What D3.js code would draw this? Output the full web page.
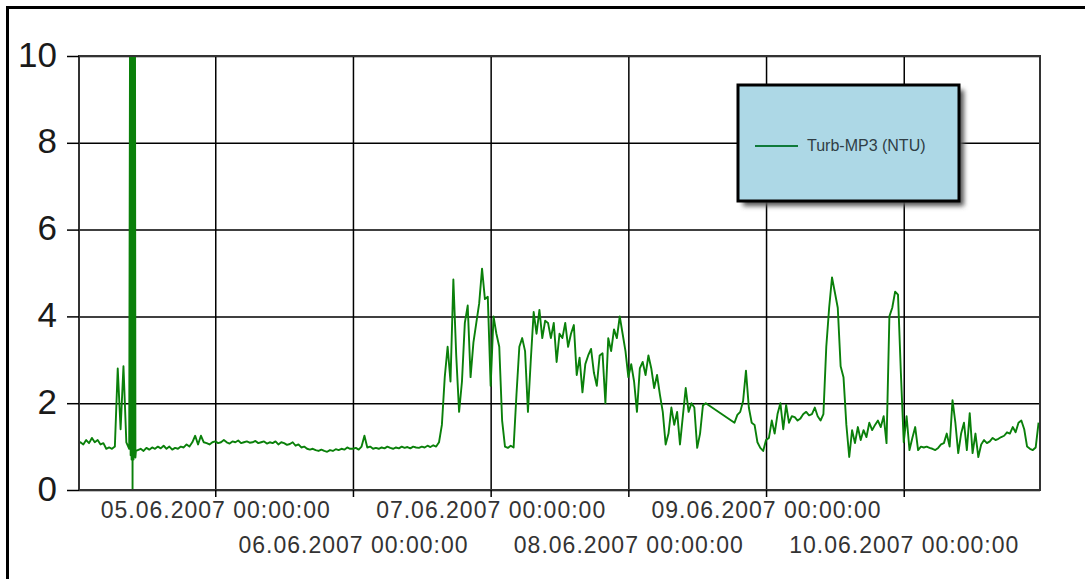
<!DOCTYPE html>
<html>
<head>
<meta charset="utf-8">
<script src="https://cdn.jsdelivr.net/npm/d3@7"></script>
<style>
  body { margin: 0; background: #fff; }
  svg { display: block; }
</style>
</head>
<body>
<div id="chart-area"></div>
<script>
// Turbidity readings, one value every 30 minutes per day (null = no reading)
const days = ["2007-06-04", "2007-06-05", "2007-06-06", "2007-06-07", "2007-06-08", "2007-06-09", "2007-06-10"]

const day04 = [1.05, 1.1, 1.05, 1.15, 1.08, 1.2, 1.1, 1.15, 1.05, 1.08, 0.95, 0.98, 0.95, 1.0, 2.8, 1.4,
	2.85, 1.1, 0.95, null, null, 0.92, 0.95, 0.9, 0.97, 0.93, 0.98, 0.95, 1.0, 0.96, 1.02, 0.95,
	1.0, 0.93, 0.97, 0.95, 1.0, 0.98, 1.05, 1.0, 1.1, 1.25, 1.05, 1.25, 1.1, 1.08, 1.05, 1.1]
const day05 = [1.12, 1.08, 1.1, 1.15, 1.1, 1.07, 1.12, 1.1, 1.14, 1.08, 1.1, 1.12, 1.09, 1.1, 1.13, 1.08,
	1.1, 1.12, 1.07, 1.1, 1.08, 1.12, 1.05, 1.1, 1.08, 1.04, 1.06, 1.1, 1.02, 1.05, 0.98, 1.0,
	0.95, 0.93, 0.95, 0.92, 0.9, 0.93, 0.9, 0.88, 0.92, 0.9, 0.94, 0.92, 0.95, 0.93, 0.98, 0.95]
const day06 = [0.95, 0.97, 0.93, 1.0, 1.25, 0.98, 1.0, 0.95, 0.97, 0.95, 0.98, 0.96, 1.0, 0.97, 0.95, 0.98,
	0.96, 1.0, 0.97, 0.99, 0.96, 1.0, 0.98, 0.97, 1.0, 0.98, 1.02, 0.99, 1.03, 1.0, 1.1, 1.5,
	2.6, 3.3, 2.5, 4.85, 3.1, 1.8, 2.5, 3.85, 4.25, 2.6, 3.4, 3.85, 4.3, 5.1, 4.4, 4.45]
const day07 = [2.4, 4.0, 3.6, 3.3, 1.6, 1.0, 0.97, 1.02, 0.98, 2.2, 3.3, 3.5, 3.2, 1.8, 3.0, 4.1,
	3.6, 4.15, 3.5, 3.9, 3.85, 3.5, 3.85, 2.95, 3.6, 3.5, 3.85, 3.3, 3.6, 3.8, 2.65, 3.05,
	2.25, 2.9, 3.1, 3.25, 2.7, 2.4, 3.1, 3.15, 2.0, 3.5, 3.2, 3.7, 3.5, 4.0, 3.6, 3.2]
const day08 = [2.6, 2.9, 2.5, 1.8, 2.8, 2.95, 2.65, 3.1, 2.8, 2.35, 2.65, 2.2, 1.8, 1.05, 1.3, 1.9,
	1.5, 1.8, 1.05, 1.7, 2.35, 1.8, 2.0, 1.9, 0.97, 1.3, 1.95, 2.0, null, null, null, null,
	null, null, null, null, null, 1.55, 1.73, 1.8, 2.05, 2.75, 1.9, 1.55, 1.5, 1.1, 0.97, 0.9]
const day09 = [1.15, 1.2, 1.6, 1.3, 1.75, 2.0, 1.4, 1.96, 1.55, 1.7, 1.68, 1.6, 1.65, 1.75, 1.8, 1.72,
	1.75, 1.9, 1.7, 1.6, 1.75, 3.3, 4.2, 4.9, 4.55, 4.2, 2.85, 2.6, 1.5, 0.76, 1.38, 1.08,
	1.45, 1.15, 1.38, 1.22, 1.55, 1.38, 1.5, 1.6, 1.45, 1.7, 1.08, 4.0, 4.2, 4.57, 4.5, 2.7]
const day10 = [1.1, 1.7, 0.92, 1.2, 1.45, 0.92, 1.0, 0.98, 1.0, 0.97, 0.95, 0.92, 0.97, 1.05, 1.08, 1.3,
	1.0, 2.07, 1.55, 0.85, 1.3, 1.55, 0.92, 1.77, 0.85, 1.3, 0.76, 1.05, 1.15, 1.08, 1.12, 1.2,
	1.15, 1.18, 1.22, 1.25, 1.33, 1.3, 1.45, 1.33, 1.55, 1.6, 1.4, 1.0, 0.95, 0.92, 0.98, 1.55]

// Sensor burst on the morning of 04.06 (5 minute readings, off the scale)
const spikeTimes = ["2007-06-04T09:10", "2007-06-04T09:15", "2007-06-04T09:20", "2007-06-04T09:25",
	"2007-06-04T09:30", "2007-06-04T09:35", "2007-06-04T09:40", "2007-06-04T09:45", "2007-06-04T09:50",
	"2007-06-04T09:55", "2007-06-04T10:00", "2007-06-04T10:05", "2007-06-04T10:10"]
const spikeValues = [12, 0.8, 12, 0.7, 12, 0.0, 12, 0.7, 12, 0.8, 12, 0.75, 0.9]

const yTicks = [0, 2, 4, 6, 8, 10]
const seriesName = "Turb-MP3 (NTU)"

const margin = { left: 79, right: 45, top: 56, bottom: 89 }
const width = 1085 - margin.left - margin.right,
	height = 579 - margin.top - margin.bottom

const parseTime = d3.timeParse("%Y-%m-%dT%H:%M")
const parseDay = d3.timeParse("%Y-%m-%d")

// Build readings
let readings = []
const dayValues = [day04, day05, day06, day07, day08, day09, day10]
dayValues.forEach((vals, k) => {
	let start = parseDay(days[k])
	vals.forEach((v, j) => {
		if (v === null) return
		readings.push({ t: d3.timeMinute.offset(start, j * 30), v: v })
	})
})
spikeTimes.forEach((s, i) => readings.push({ t: parseTime(s), v: spikeValues[i] }))
readings.sort((a, b) => a.t - b.t)

const svg = d3.select("#chart-area")
	.append("svg")
		.attr("width", 1085)
		.attr("height", 579)

// outer frame
svg.append("rect")
	.attr("x", 7.5)
	.attr("y", 7.5)
	.attr("width", 1200)
	.attr("height", 700)
	.attr("fill", "none")
	.attr("stroke", "#000")
	.attr("stroke-width", 3)

const g = svg.append("g")
	.attr("transform", `translate(${margin.left}, ${margin.top})`)

const x = d3.scaleTime()
	.domain([new Date(2007, 5, 4, 0, 15), new Date(2007, 5, 10, 23, 45)])
	.range([0, width])

const y = d3.scaleLinear()
	.domain([0, 10])
	.range([height, 0])

const dayTicks = days.slice(1).map(d => parseDay(d))

// Grid
g.append("g")
	.attr("class", "grid")
	.call(d3.axisLeft(y).tickValues(yTicks).tickSize(-width).tickFormat(""))
g.append("g")
	.attr("class", "grid")
	.call(d3.axisBottom(x).tickValues(dayTicks).tickSize(height).tickFormat(""))
g.selectAll(".grid .domain").remove()
g.selectAll(".grid line")
	.attr("stroke", "#000")
	.attr("stroke-width", 1.5)

// Series
g.append("clipPath")
	.attr("id", "plot-clip")
	.append("rect")
		.attr("width", width)
		.attr("height", height)

const line = d3.line()
	.x(d => x(d.t))
	.y(d => y(d.v))

g.append("path")
	.datum(readings)
	.attr("clip-path", "url(#plot-clip)")
	.attr("fill", "none")
	.attr("stroke", "#0a800a")
	.attr("stroke-width", 1.9)
	.attr("stroke-linejoin", "round")
	.attr("d", line)

// Plot border
g.append("rect")
	.attr("width", width)
	.attr("height", height)
	.attr("fill", "none")
	.attr("stroke", "#333")
	.attr("stroke-width", 2)

// Y axis
const yAxisGroup = g.append("g")
	.call(d3.axisLeft(y).tickValues(yTicks).tickSize(12).tickFormat(d3.format("d")))
yAxisGroup.select(".domain").remove()
yAxisGroup.selectAll("line").attr("stroke", "#000").attr("stroke-width", 1.5)
yAxisGroup.selectAll("text")
	.attr("x", -22)
	.attr("dy", 10)
	.attr("fill", "#1a1a1a")
	.attr("font-family", "'Liberation Sans', Arial, sans-serif")
	.attr("font-size", "35px")

// X axis
const xAxisGroup = g.append("g")
	.attr("transform", `translate(0, ${height})`)
	.call(d3.axisBottom(x).tickValues(dayTicks).tickSize(7).tickFormat(d3.timeFormat("%d.%m.%Y %H:%M:%S")))
xAxisGroup.select(".domain").remove()
xAxisGroup.selectAll("line").attr("stroke", "#000").attr("stroke-width", 1.5)
xAxisGroup.selectAll("text")
	.attr("y", (d, i) => i % 2 === 0 ? 28 : 63)
	.attr("dy", 0)
	.attr("fill", "#333")
	.attr("font-family", "'Liberation Sans', Arial, sans-serif")
	.attr("font-size", "23px")
	.attr("letter-spacing", "1px")

// Legend
const defs = svg.append("defs")
defs.append("filter")
	.attr("id", "legend-shadow")
	.attr("x", "-20%").attr("y", "-20%")
	.attr("width", "140%").attr("height", "140%")
	.append("feGaussianBlur")
		.attr("stdDeviation", 2.5)

const legend = svg.append("g")
	.attr("transform", "translate(738, 85)")

legend.append("rect")
	.attr("x", 5)
	.attr("y", 5)
	.attr("width", 221)
	.attr("height", 116)
	.attr("fill", "#555")
	.attr("filter", "url(#legend-shadow)")

legend.append("rect")
	.attr("width", 221)
	.attr("height", 116)
	.attr("fill", "#add8e6")
	.attr("stroke", "#000")
	.attr("stroke-width", 3)

legend.append("line")
	.attr("x1", 17)
	.attr("x2", 60)
	.attr("y1", 61)
	.attr("y2", 61)
	.attr("stroke", "#0f7a3a")
	.attr("stroke-width", 2)

legend.append("text")
	.attr("x", 69)
	.attr("y", 66)
	.attr("fill", "#2f3d45")
	.attr("font-family", "'Liberation Sans', Arial, sans-serif")
	.attr("font-size", "16px")
	.text(seriesName)
</script>
</body>
</html>
